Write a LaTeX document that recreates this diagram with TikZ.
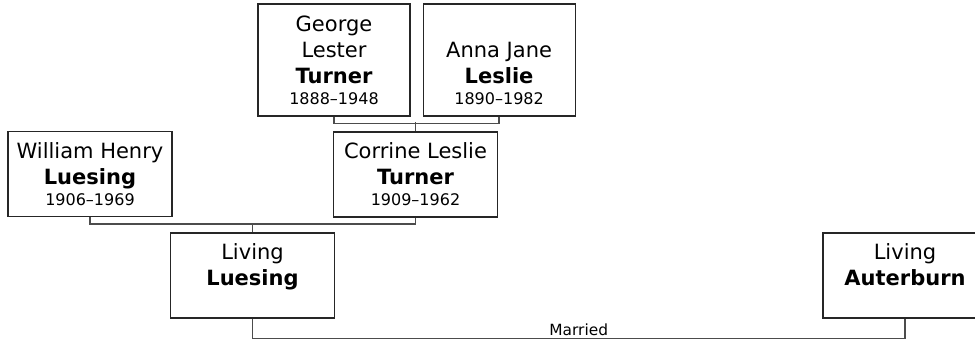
\documentclass[tikz,border=0pt]{standalone}
\usepackage{fontspec}
\setmainfont{DejaVu Sans}
\usetikzlibrary{calc,positioning}
\definecolor{boxline}{rgb}{0.15, 0.15, 0.15}
\definecolor{linkgray}{rgb}{0.3, 0.3, 0.3}
\newcommand{\lifespan}[1]{{\fontsize{8}{10}\selectfont #1}}
\tikzset{
  person/.style={
    draw=boxline,
    line width=.55pt,
    fill=white,
    align=center,
    inner sep=0pt,
    minimum width=82pt,
    minimum height=42.5pt,
    font=\fontsize{10.5}{13}\selectfont
  },
  tall/.style={
    minimum width=76pt,
    minimum height=56pt
  },
  link/.style={
    draw=linkgray,
    line width=.9pt
  },
  wedding/.style={
    font=\fontsize{7.7}{9}\selectfont,
    inner sep=1.2pt
  }
}

\begin{document}
\begin{tikzpicture}[x=.5pt, y=-.5pt]
\useasboundingbox (0,0) rectangle (975,341);
\node[person, tall] (george) at (334,60) {George\\Lester\\\textbf{Turner}\\[-2.5pt]\lifespan{1888–1948}};
\node[person, tall, right=6pt of george] (anna) {\vphantom{Ag}\\Anna Jane\\\textbf{Leslie}\\[-2.5pt]\lifespan{1890–1982}};
\node[person] (corrine) at (415.5,174.5) {Corrine Leslie\\\textbf{Turner}\\[-2.5pt]\lifespan{1909–1962}};
\node[person] (william) at (90,174) {William Henry\\\textbf{Luesing}\\[-2.5pt]\lifespan{1906–1969}};
\node[person] (living) at (252.5,275.5) {Living\\\textbf{Luesing}\\[-2.5pt]\lifespan{\vphantom{1}}};
\node[person] (auter) at (905,275.5) {Living\\\textbf{Auterburn}\\[-2.5pt]\lifespan{\vphantom{1}}};
% parents
\draw[link] (george.south) -- ++(0,7) -| (anna.south);
\draw[link] (corrine.north) -- ++(0,-9);
\draw[link] (william.south) -- ++(0,7) -| (corrine.south);
\draw[link] (living.north) -- ++(0,-9);
% spouse
\draw[link] (living.south) -- ++(0,20) -| node[wedding, pos=.25, above] {Married} (auter.south);
\end{tikzpicture}
\end{document}
